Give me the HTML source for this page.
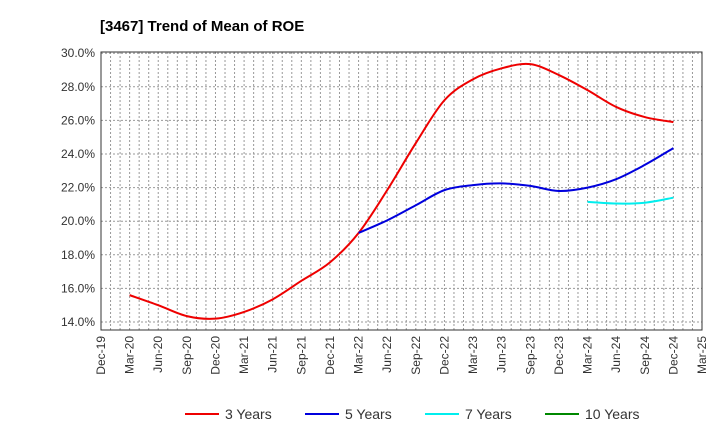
<!DOCTYPE html>
<html><head><meta charset="utf-8"><style>
body{margin:0;background:#fff;font-family:"Liberation Sans",Arial,sans-serif}
</style></head><body>
<svg id="chart" width="720" height="440" xmlns="http://www.w3.org/2000/svg">
<text x="100" y="31" font-size="15" font-weight="bold" fill="#000">[3467]  Trend of Mean of ROE</text>
<g id="grid"></g><g id="axes"></g><g id="series"></g><g id="legend"></g>
</svg>
<script>
const xLabels=["Dec-19","Mar-20","Jun-20","Sep-20","Dec-20","Mar-21","Jun-21","Sep-21","Dec-21","Mar-22","Jun-22","Sep-22","Dec-22","Mar-23","Jun-23","Sep-23","Dec-23","Mar-24","Jun-24","Sep-24","Dec-24","Mar-25"];
const yTicks=[14,16,18,20,22,24,26,28,30];
const s3start=1;
const s3=[15.6,15.0,14.35,14.2,14.6,15.35,16.45,17.55,19.3,21.85,24.65,27.2,28.45,29.1,29.35,28.7,27.8,26.8,26.2,25.9];
const s5start=9;
const s5=[19.3,20.05,20.95,21.85,22.15,22.25,22.1,21.8,22.0,22.5,23.35,24.35];
const s7start=17;
const s7=[21.15,21.05,21.1,21.4];
const s10start=20;
const s10=[];
const L=101,R=702,T=52,B=330;
const x=i=>L+(R-L)*i/21;
const y=v=>322-(v-14)*16.8;
const NS="http://www.w3.org/2000/svg";
function mk(t,a,p){const e=document.createElementNS(NS,t);for(const k in a)e.setAttribute(k,a[k]);p.appendChild(e);return e;}
const g=document.getElementById('grid'),ax=document.getElementById('axes'),se=document.getElementById('series'),lg=document.getElementById('legend');
for(let m=1;m<63;m++){const xx=L+(R-L)*m/63;
const l=mk('line',{x1:xx,x2:xx,y1:T,y2:B,stroke:'#999','stroke-dasharray':'2,2','stroke-width':1},g);

}
yTicks.forEach(v=>{const l=mk('line',{x1:L,x2:R,y1:y(v),y2:y(v),stroke:'#999','stroke-dasharray':'2,2'},g);


const t=mk('text',{x:L-6,y:y(v)+4,'text-anchor':'end','font-size':12,fill:'#333'},ax);t.textContent=v.toFixed(1)+'%';

});
const fr=mk('rect',{x:L,y:T,width:R-L,height:B-T,fill:'none',stroke:'#333','stroke-width':1},ax);


xLabels.forEach((s,i)=>{const t=mk('text',{transform:`translate(${x(i)+4},${B+6}) rotate(-90)`,'text-anchor':'end','font-size':12,fill:'#333'},ax);t.textContent=s;

});
function path(vals,st){const p=vals.map((v,i)=>[x(st+i),y(v)]);if(p.length<2)return'';
let d=`M${p[0][0]},${p[0][1]}`;for(let i=0;i<p.length-1;i++){const p0=p[i-1]||p[i],p1=p[i],p2=p[i+1],p3=p[i+2]||p2;
d+=` C${p1[0]+(p2[0]-p0[0])/6},${p1[1]+(p2[1]-p0[1])/6} ${p2[0]-(p3[0]-p1[0])/6},${p2[1]-(p3[1]-p1[1])/6} ${p2[0]},${p2[1]}`;}return d;}
[[s3,s3start,'#e00','line-3-years'],[s5,s5start,'#00d','line-5-years'],[s7,s7start,'#0ee','line-7-years'],[s10,s10start,'#080','line-10-years']].forEach(([v,st,c,n])=>{
const e=mk('path',{d:path(v,st),fill:'none',stroke:c,'stroke-width':2},se);

});
[['3 Years','#e00',185],['5 Years','#00d',305],['7 Years','#0ee',425],['10 Years','#080',545]].forEach(([n,c,lx])=>{
const l=mk('line',{x1:lx,x2:lx+34,y1:414,y2:414,stroke:c,'stroke-width':2},lg);


const t=mk('text',{x:lx+40,y:419,'font-size':14,fill:'#333'},lg);t.textContent=n;

});
</script>
</body></html>
